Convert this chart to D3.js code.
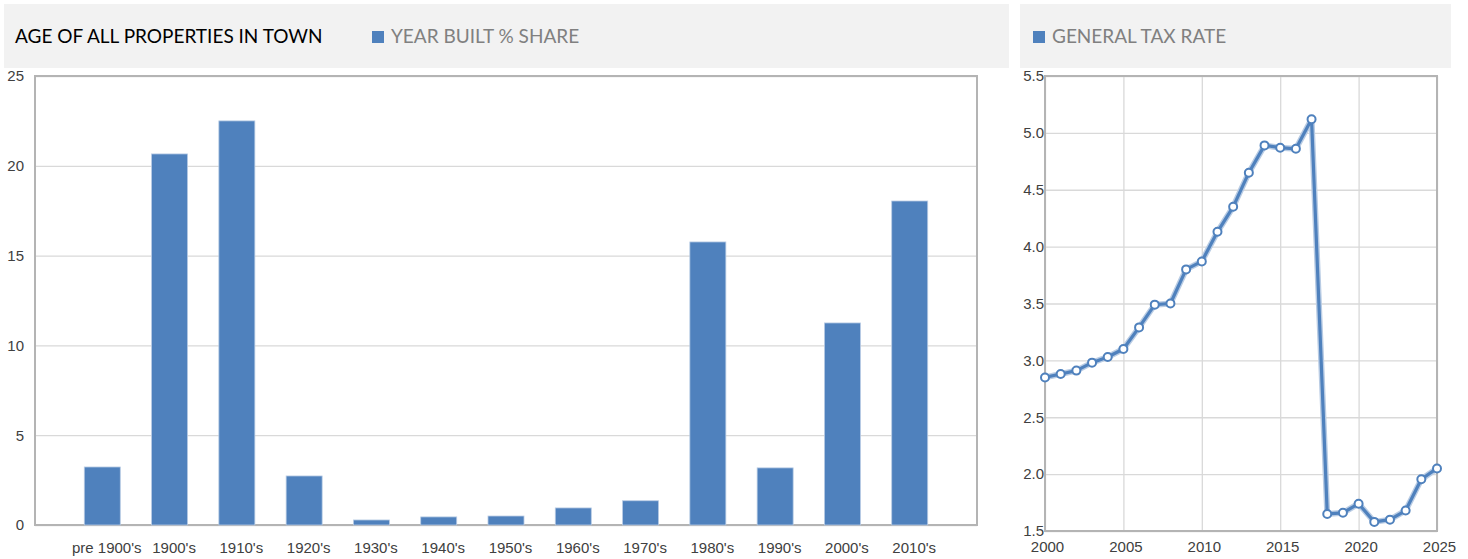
<!DOCTYPE html>
<html>
<head>
<meta charset="utf-8">
<title>Town charts</title>
<script src="https://cdn.jsdelivr.net/npm/d3@7"></script>
<style>
*{ margin:0; padding:0; }
body{ background:#fff; }
svg{ display:block; }
.tick text{ font-family:"Liberation Sans", Arial, sans-serif; font-size:15px; fill:#404040; }
</style>
</head>
<body>
<script>
// data
var categories = ["pre 1900's","1900's","1910's","1920's","1930's","1940's","1950's","1960's","1970's","1980's","1990's","2000's","2010's"];
var shares = [3.23, 20.66, 22.5, 2.73, 0.28, 0.45, 0.5, 0.95, 1.35, 15.76, 3.18, 11.25, 18.04];
var shareTicks = [0, 5, 10, 15, 20, 25];

var years = [2000,2001,2002,2003,2004,2005,2006,2007,2008,2009,2010,2011,2012,2013,2014,2015,2016,2017,2018,2019,2020,2021,2022,2023,2024,2025];
var taxRates = [2.85,2.88,2.91,2.98,3.03,3.10,3.29,3.49,3.50,3.80,3.87,4.13,4.35,4.65,4.89,4.87,4.86,5.12,1.65,1.66,1.74,1.58,1.60,1.68,1.955,2.05];
var rateTicks = [1.5, 2.0, 2.5, 3.0, 3.5, 4.0, 4.5, 5.0, 5.5];
var yearTicks = [2000, 2005, 2010, 2015, 2020, 2025];

var W = 1468, H = 559;
var blue = "#4f81bd";

var svg = d3.select("body").append("svg")
	.attr("width", W)
	.attr("height", H);

// ---- header panels
var headers = [{x: 4, w: 1005}, {x: 1020, w: 431}];
svg.selectAll("rect.hdr").data(headers).enter().append("rect")
	.attr("class", "hdr")
	.attr("x", d => d.x).attr("y", 4)
	.attr("width", d => d.w).attr("height", 64)
	.attr("fill", "#f2f2f2");

var hfont = "Lato, 'Open Sans', sans-serif";
svg.append("text")
	.attr("x", 15).attr("y", 43)
	.attr("font-family", hfont).attr("font-size", 19)
	.attr("fill", "#000")
	.text("AGE OF ALL PROPERTIES IN TOWN");

function legend(x, label){
	svg.append("rect")
		.attr("x", x).attr("y", 31)
		.attr("width", 12).attr("height", 12)
		.attr("fill", blue);
	svg.append("text")
		.attr("x", x + 19).attr("y", 43)
		.attr("font-family", hfont).attr("font-size", 19)
		.attr("fill", "#808080")
		.text(label);
}
legend(372, "YEAR BUILT % SHARE");
legend(1033, "GENERAL TAX RATE");

// ---- bar chart
var b = {left: 35, right: 977, top: 76, bottom: 525};

var x = d3.scalePoint()
	.domain(categories)
	.range([b.left, b.right])
	.padding(1);

var y = d3.scaleLinear()
	.domain([0, 25])
	.range([b.bottom, b.top]);

var g1 = svg.append("g");

g1.append("g")
	.attr("transform", "translate(" + b.left + ",0)")
	.call(d3.axisLeft(y).tickValues(shareTicks).tickSizeInner(-(b.right - b.left)).tickSizeOuter(0).tickPadding(11))
	.call(g => g.select(".domain").remove())
	.call(g => g.selectAll(".tick line").attr("stroke", "#d9d9d9").attr("stroke-width", 1.3));

g1.append("rect")
	.attr("x", b.left).attr("y", b.top)
	.attr("width", b.right - b.left).attr("height", b.bottom - b.top)
	.attr("fill", "none")
	.attr("stroke", "#b4b4b4").attr("stroke-width", 2);

var bw = 36;
g1.selectAll("rect.bar").data(shares).enter().append("rect")
	.attr("class", "bar")
	.attr("x", (d, i) => x(categories[i]) - bw / 2)
	.attr("y", d => y(d))
	.attr("width", bw)
	.attr("height", d => y(0) - y(d))
	.attr("fill", blue)
	.attr("stroke", "#b8cbe4")
	.attr("stroke-width", 0.8);

g1.append("g")
	.attr("transform", "translate(0," + b.bottom + ")")
	.call(d3.axisBottom(x).tickSize(0).tickPadding(0))
	.call(g => g.select(".domain").remove())
	.call(g => g.selectAll(".tick text").attr("dy", null).attr("y", 28).attr("dx", 4));

// ---- line chart
var l = {left: 1045, right: 1437, top: 76, bottom: 531};

var xr = d3.scaleLinear()
	.domain([2000, 2025])
	.range([l.left, l.right]);

var yr = d3.scaleLinear()
	.domain([1.5, 5.5])
	.range([l.bottom, l.top]);

var g2 = svg.append("g");

g2.append("g")
	.attr("transform", "translate(" + l.left + ",0)")
	.call(d3.axisLeft(yr).tickValues(rateTicks).tickFormat(d3.format(".1f")).tickSizeInner(-(l.right - l.left)).tickSizeOuter(0).tickPadding(1))
	.call(g => g.select(".domain").remove())
	.call(g => g.selectAll(".tick line").attr("stroke", "#d9d9d9").attr("stroke-width", 1.3));

g2.append("g")
	.attr("transform", "translate(0," + l.bottom + ")")
	.call(d3.axisBottom(xr).tickValues(yearTicks).tickFormat(d3.format("d")).tickSizeInner(-(l.bottom - l.top)).tickSizeOuter(0).tickPadding(0))
	.call(g => g.select(".domain").remove())
	.call(g => g.selectAll(".tick line").attr("stroke", "#d9d9d9").attr("stroke-width", 1.3))
	.call(g => g.selectAll(".tick text").attr("dy", null).attr("y", 21).attr("dx", 2));

g2.append("rect")
	.attr("x", l.left).attr("y", l.top)
	.attr("width", l.right - l.left).attr("height", l.bottom - l.top)
	.attr("fill", "none")
	.attr("stroke", "#b4b4b4").attr("stroke-width", 2);

var line = d3.line()
	.x((d, i) => xr(years[i]))
	.y(d => yr(d));

g2.append("path")
	.datum(taxRates)
	.attr("d", line)
	.attr("fill", "none")
	.attr("stroke", "#b9cce4")
	.attr("stroke-width", 6)
	.attr("stroke-linejoin", "round");

g2.append("path")
	.datum(taxRates)
	.attr("d", line)
	.attr("fill", "none")
	.attr("stroke", blue)
	.attr("stroke-width", 3.2)
	.attr("stroke-linejoin", "round");

g2.selectAll("circle").data(taxRates).enter().append("circle")
	.attr("cx", (d, i) => xr(years[i]))
	.attr("cy", d => yr(d))
	.attr("r", 4)
	.attr("fill", "#fff")
	.attr("stroke", blue)
	.attr("stroke-width", 2);
</script>
</body>
</html>
